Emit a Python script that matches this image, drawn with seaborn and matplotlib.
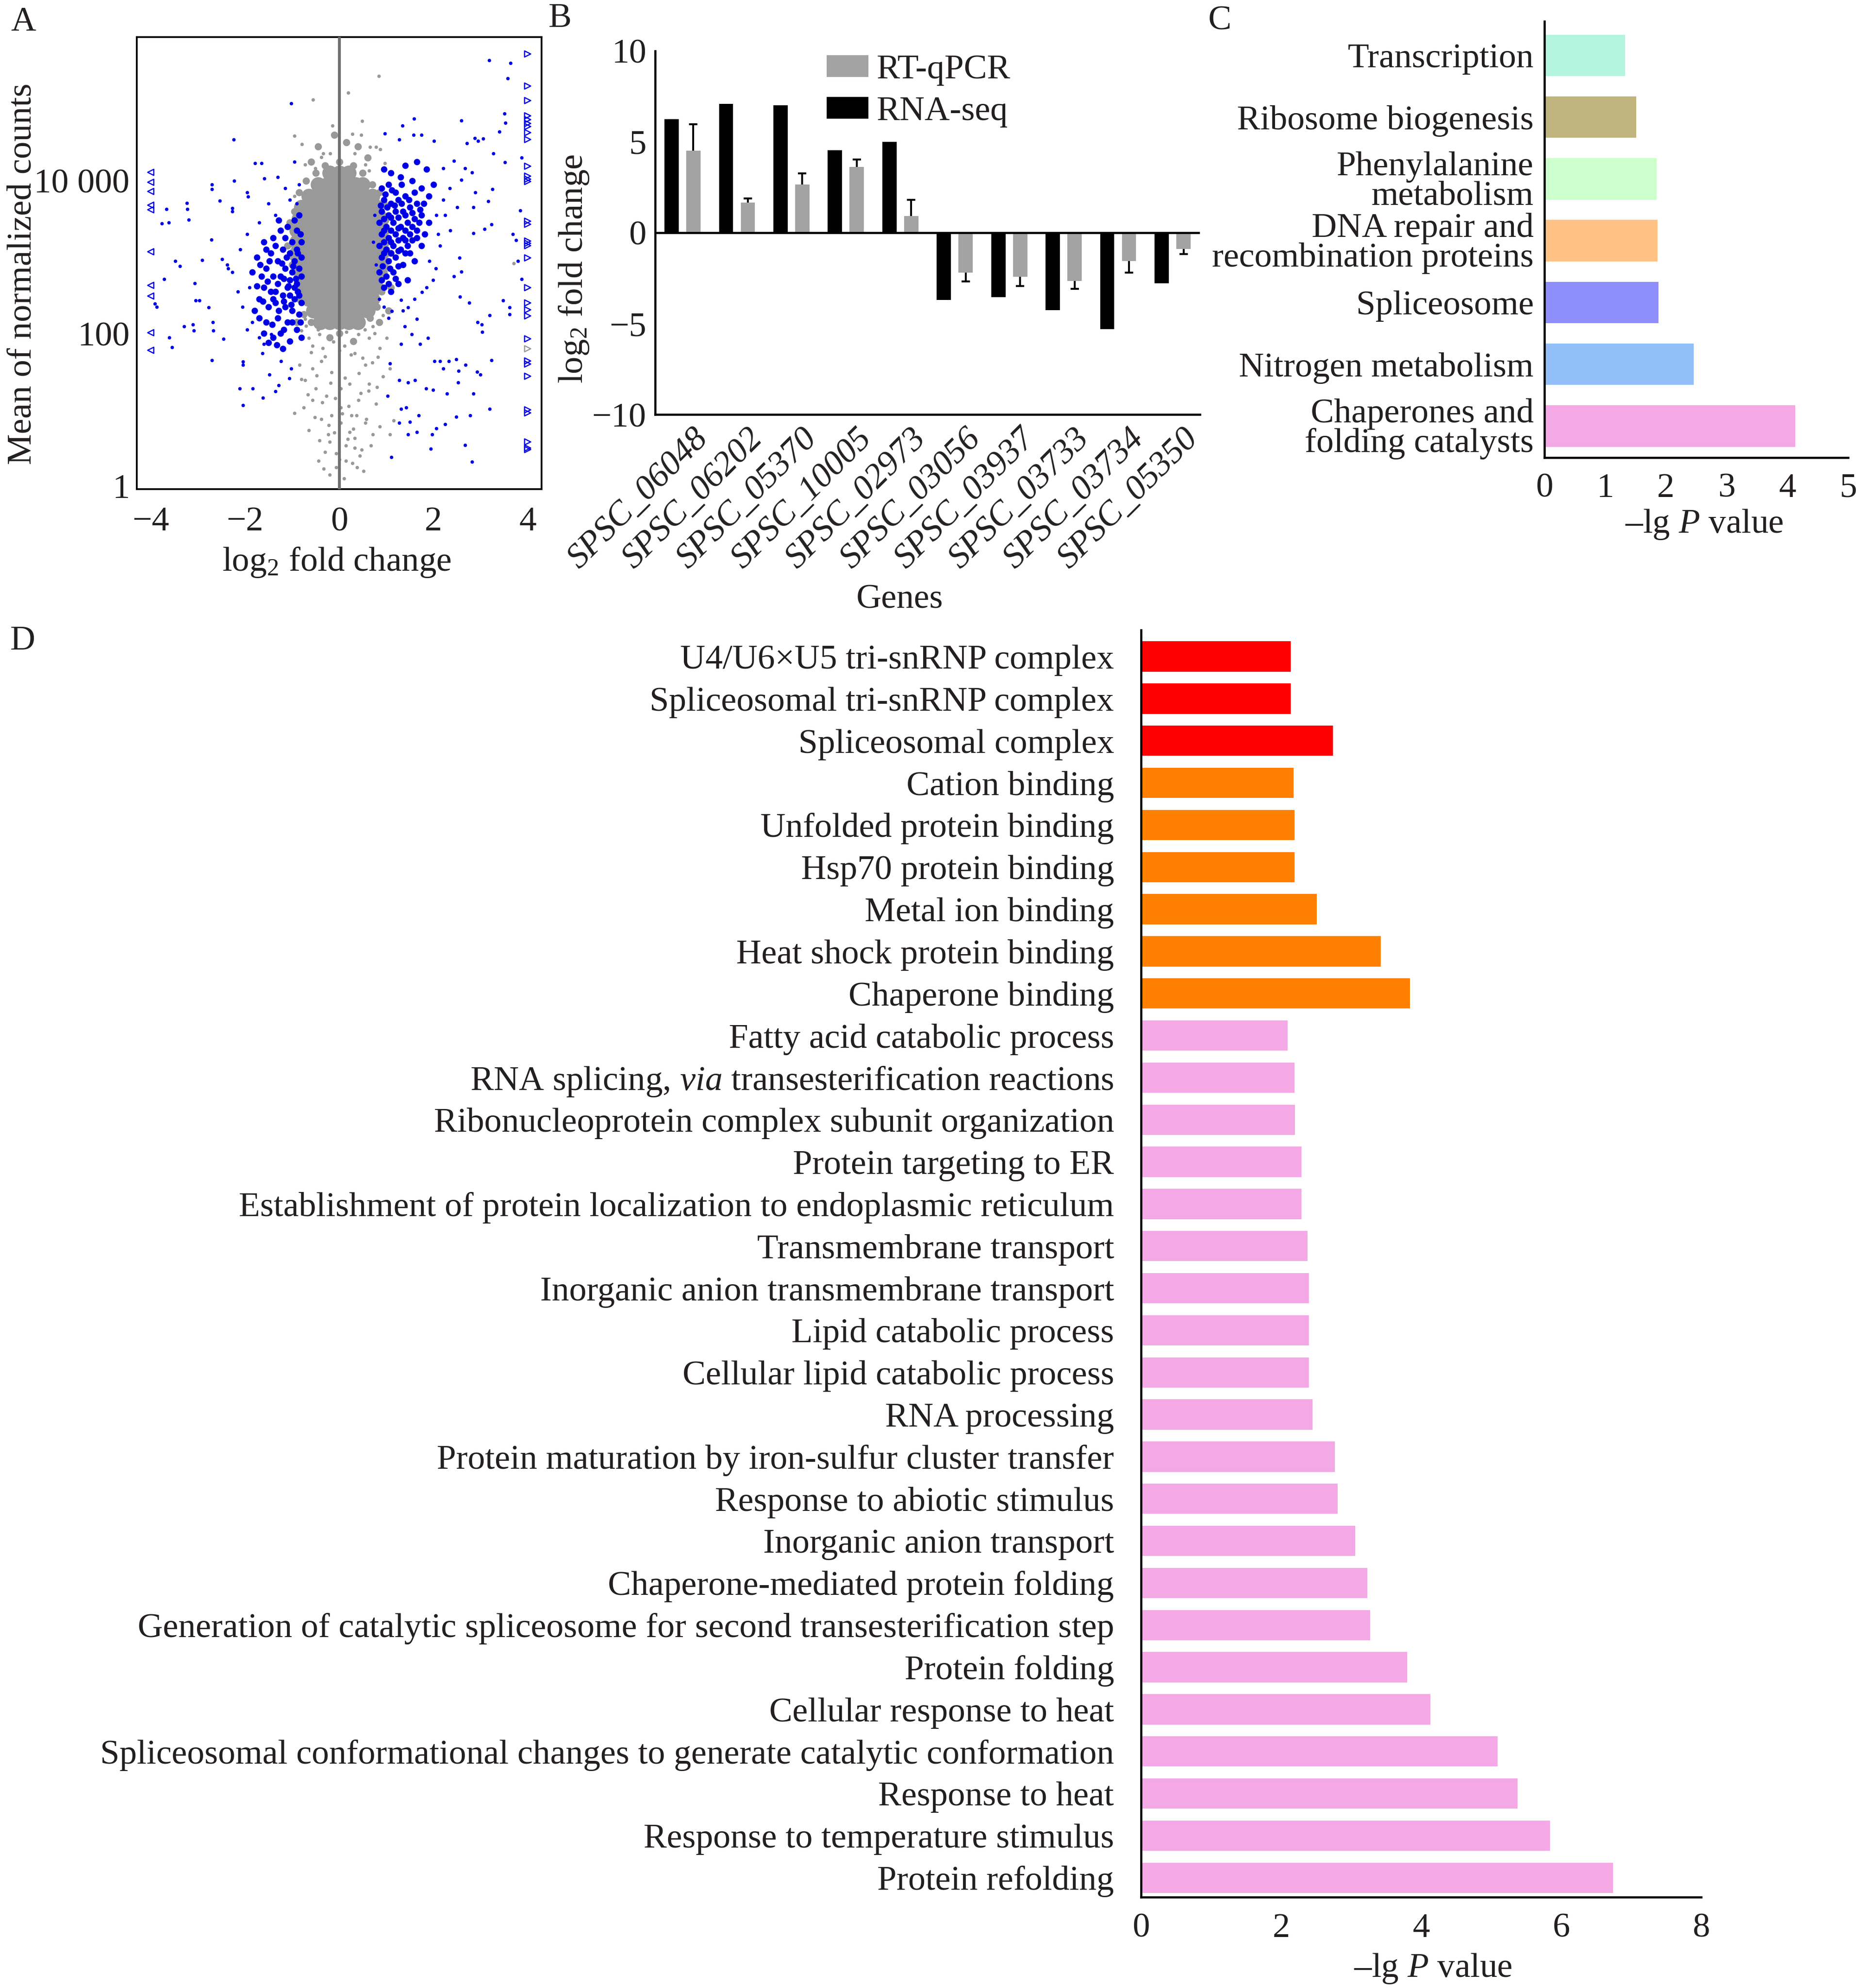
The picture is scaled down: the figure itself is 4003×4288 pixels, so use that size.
import numpy as np
import pandas as pd
import matplotlib
matplotlib.use("Agg")
import matplotlib.pyplot as plt
import matplotlib.transforms as mtransforms
from matplotlib.ticker import FixedLocator, FixedFormatter, NullLocator
import seaborn as sns

# ---------------- Panel A: MA plot (log2 fold change vs log10 mean counts) ----------------
grey_core_rows = {
    4.10: [-0.2, 0.0, 0.2],
    3.95: [-0.45, -0.25, -0.05, 0.15, 0.35, 0.5],
    3.80: [-0.65, -0.45, -0.25, -0.05, 0.15, 0.35, 0.55, 0.7],
    3.65: [-0.8, -0.6, -0.4, -0.2, 0.0, 0.2, 0.4, 0.6, 0.8],
    3.50: [-0.85, -0.65, -0.45, -0.25, -0.05, 0.15, 0.35, 0.55, 0.75, 0.9],
    3.35: [-0.9, -0.7, -0.5, -0.3, -0.1, 0.1, 0.3, 0.5, 0.7, 0.9],
    3.20: [-0.9, -0.7, -0.5, -0.3, -0.1, 0.1, 0.3, 0.5, 0.7, 0.9],
    3.05: [-0.9, -0.7, -0.5, -0.3, -0.1, 0.1, 0.3, 0.5, 0.7, 0.9],
    2.90: [-0.85, -0.65, -0.45, -0.25, -0.05, 0.15, 0.35, 0.55, 0.75, 0.88],
    2.75: [-0.8, -0.6, -0.4, -0.2, 0.0, 0.2, 0.4, 0.6, 0.8],
    2.60: [-0.75, -0.55, -0.35, -0.15, 0.05, 0.25, 0.45, 0.65, 0.78],
    2.45: [-0.65, -0.45, -0.25, -0.05, 0.15, 0.35, 0.55, 0.7],
    2.30: [-0.55, -0.35, -0.15, 0.05, 0.25, 0.45, 0.6],
    2.15: [-0.4, -0.2, 0.0, 0.2, 0.4],
}
grey_edge_x = [-0.95, -0.92, -0.98, -0.90, -0.85, -0.75, -0.60, 0.95, 0.98, 1.00, 0.95, 0.90, 0.80, 0.65,
               -0.85, -0.70, -0.50, -0.30, 0.00, 0.30, 0.50, 0.70, 0.85, -0.60, 0.60, -0.45, 0.15, 0.40, -0.10,
               -1.05, -1.00, 1.10, 1.05, -0.90, 0.85, -1.10, 1.10, 0.00, -0.20, 0.30]
grey_edge_lg = [3.60, 3.30, 3.00, 2.70, 2.45, 2.25, 2.15, 3.70, 3.40, 3.10, 2.80, 2.55, 2.35, 2.20,
                3.85, 4.00, 4.10, 4.20, 4.25, 4.20, 4.10, 3.95, 3.85, 4.25, 4.30, 4.45, 4.50, 4.45, 4.60,
                3.45, 2.90, 2.60, 2.30, 2.15, 2.15, 3.15, 3.05, 2.00, 1.95, 1.90]
grey_x = [0.84, 0.19, -0.56, -0.14, 0.49, 0.28, 0.47, -0.95, -0.79, 0.65, -0.34, -0.19, 0.78, 0.87, -0.38, 0.33, 0.97, -0.72, 0.56, 0.63, -0.51,
          -0.95, -0.75, -0.57, -0.38, -0.44, -0.33, -0.20, -0.06, -0.06, 0.14, 0.22, 0.33, 0.48, 0.67, 0.86, 1.16, 0.56, 0.37, 0.03, -0.16,
          -0.27, -0.50, -0.72, -0.84, -0.57, -0.38, -0.16, 0.03, 0.22, 0.41, 0.63, 0.78, 0.93, 1.08, 0.82, 0.56, 0.33, 0.11, -0.12, -0.35,
          -0.57, -0.65, -0.42, 0.63, 0.86, 1.01, 0.41, 0.03, 0.14, -0.23, 0.26, -0.65, 1.08, 0.33, 0.71,
          -0.80, 0.71, 0.93, -0.72, -0.95, 1.01, 0.90, 0.78, 3.70]
grey_lg = [5.37, 5.15, 5.06, 4.72, 4.78, 4.61, 4.60, 4.59, 4.48, 4.44, 4.36, 4.36, 4.44, 4.41, 4.31, 4.36, 4.23, 4.21, 4.21, 4.13, 4.16,
           0.96, 1.03, 1.13, 0.88, 0.33, 0.23, 0.58, 0.43, 0.25, 0.53, 0.71, 0.50, 0.48, 0.53, 0.78, 0.86, 0.83, 0.93, 0.83, 0.93,
           1.18, 1.28, 1.39, 1.59, 1.54, 1.64, 1.49, 1.28, 1.34, 1.13, 1.34, 1.08, 1.44, 1.54, 1.69, 1.59, 1.74, 1.84, 1.89, 1.81,
           1.84, 1.94, 1.99, 1.94, 1.81, 1.94, 1.99, 1.03, 0.33, 0.68, 0.93, 0.73, 0.68, 0.63, 0.68,
           2.04, 2.09, 2.24, 2.19, 3.80, 3.40, 2.85, 2.54, 2.92]
grey_tail_x = [-0.70, -0.45, -0.25, -0.05, 0.15, 0.35, 0.55, 0.75, -0.60, -0.30, 0.00, 0.25, 0.50, 0.70,
               -0.80, -0.48, -0.18, 0.12, 0.42, 0.62, -0.66, -0.36, -0.08, 0.20, 0.46, 0.80,
               -0.52, -0.22, 0.06, 0.30, 0.58, -0.42, -0.10, 0.18, 0.44, -0.30, 0.00, 0.28, 0.52, -0.20, 0.10, 0.38]
grey_tail_lg = [2.10, 2.05, 2.12, 2.08, 2.02, 2.10, 2.05, 2.00, 1.75, 1.70, 1.78, 1.72, 1.68, 1.62,
                1.40, 1.45, 1.35, 1.42, 1.48, 1.25, 1.20, 1.10, 1.15, 1.05, 1.22, 1.30,
                0.90, 0.80, 0.95, 0.75, 0.88, 0.60, 0.70, 0.62, 0.40, 0.45, 0.35, 0.30, 0.20, 0.15, 0.10, 0.25]

blue_core_x = [-0.80, -0.90, -0.80, -0.95, -0.85, -1.00, -0.80, -0.90, -1.05, -1.15, -1.10, -0.85, -0.95, -1.20, -1.30, -1.25,
               -1.15, -1.00, -0.85, -1.35, -1.45, -1.40, -1.30, -1.05, -1.20, -0.90, -1.00, -1.45, -1.55, -1.60, -1.50, -1.30,
               -1.10, -0.90, -1.25, -1.55, -1.70, -1.65, -1.75, -1.40, -1.10, -0.85, -1.25, -1.60, -1.85, -1.80, -1.40, -1.05,
               -0.80, -1.20, -1.60, -0.95, -1.35, -1.05, -0.80,
               0.90, 1.05, 1.20, 0.95, 1.10, 1.25, 1.40, 0.90, 1.05, 1.20, 1.35, 1.50, 1.65, 0.85, 1.00, 1.15, 1.30, 1.45, 1.60,
               1.75, 0.90, 1.05, 1.20, 1.35, 1.50, 1.65, 0.85, 1.00, 1.15, 1.30, 1.45, 0.90, 1.05, 1.20, 1.35, 0.85, 1.00, 1.15,
               0.95, 1.10, 1.25, 1.55, 1.75, 1.90, 1.30, 1.10, 1.85, 2.00, 1.60, 1.75, 1.45, 1.90, 0.95, 1.40, 1.65]
blue_core_lg = [3.20, 3.10, 3.00, 2.95, 2.85, 2.80, 2.75, 2.65, 2.70, 2.85, 2.60, 2.50, 2.45, 2.50, 2.65, 2.75,
                2.35, 2.30, 2.25, 2.40, 2.55, 2.75, 2.95, 3.05, 3.10, 3.35, 3.20, 3.05, 2.85, 2.60, 2.35, 2.20,
                2.15, 2.05, 2.00, 2.15, 2.45, 2.75, 3.00, 3.25, 3.40, 3.55, 3.35, 3.20, 2.80, 2.30, 1.95, 1.90,
                1.95, 1.80, 2.00, 2.60, 2.55, 2.50, 2.40,
                3.90, 3.95, 3.85, 3.75, 3.70, 3.75, 3.80, 3.60, 3.55, 3.60, 3.60, 3.65, 3.70, 3.45, 3.40, 3.45, 3.40, 3.45, 3.50,
                3.55, 3.30, 3.25, 3.30, 3.25, 3.30, 3.35, 3.15, 3.10, 3.15, 3.10, 3.15, 3.00, 2.95, 3.00, 2.90, 2.80, 2.75, 2.80,
                2.60, 2.55, 2.65, 4.00, 3.90, 3.80, 4.05, 4.10, 4.15, 3.95, 2.95, 3.15, 2.70, 3.45, 4.15, 4.20, 4.25]
blue_core2_x = [-0.88, -0.98, -0.92, -1.08, -1.18, -1.22, -1.12, -0.88, -1.02, -1.18, -1.28, -1.40, -1.52, -1.48, -1.35,
                -1.15, -0.95, -0.82, -1.62, -1.70, -1.42, -1.18, -1.00, -0.82, -1.32, -1.50, -1.75, -1.68, -1.55, -1.28,
                0.98, 1.12, 1.32, 0.88, 1.02, 1.18, 1.32, 1.48, 0.95, 1.10, 1.25, 1.40, 1.55, 1.72, 0.95, 1.10, 1.25,
                1.40, 1.55, 1.70, 0.95, 1.10, 1.25, 1.40, 1.55, 0.95, 1.10, 1.25, 1.40, 0.92, 1.08, 1.25, 0.90, 1.05,
                1.20, 1.50, 1.65, 1.82, 1.80, 1.60]
blue_core2_lg = [3.05, 2.88, 2.72, 2.62, 2.72, 2.92, 3.00, 2.55, 2.38, 2.42, 2.30, 2.45, 2.68, 2.95, 3.15,
                 3.25, 3.48, 3.30, 2.42, 2.20, 2.12, 2.05, 2.15, 2.15, 1.85, 1.88, 2.62, 2.90, 3.10, 3.48,
                 3.82, 3.88, 3.95, 3.68, 3.65, 3.68, 3.70, 3.75, 3.50, 3.52, 3.52, 3.55, 3.58, 3.62, 3.35, 3.35, 3.38,
                 3.35, 3.40, 3.45, 3.20, 3.20, 3.22, 3.22, 3.22, 3.05, 3.05, 3.08, 3.05, 2.88, 2.85, 2.88, 2.70, 2.65,
                 2.72, 3.05, 3.25, 3.30, 3.70, 3.85]

blue_x = [-1.02, -2.24, -1.79, -1.65, -2.23, -1.59, -1.95, -1.93, -2.70, -2.70, -3.23, -3.22, -3.67, -2.53, -2.27, -2.27,
          -3.76, -3.62, -3.19, -2.71, -3.48, -3.38, -2.91, -3.72, -3.07, -3.05, -2.97, -3.91, -3.87, -2.36, -2.27, -2.49,
          -2.38, -2.77, -3.29, -3.11, -3.09, -3.61, -3.55, -2.68, -2.67, -2.46, -2.70, -2.04, -2.04, -2.11, -2.04, -1.84,
          -1.62, -1.48, -1.35, -1.28, -1.44, -1.24, -1.63, -1.60, -1.02, -1.06,
          -0.95, -1.30, -0.85, -1.15, -1.50, -1.05, -1.35, -0.90, -1.70, -1.95, -2.10, -1.90, -2.05, -1.95, -1.70, -1.85, -2.15,
          3.18, 3.64, 3.58, 3.51, 3.53, 3.40, 2.59, 1.59, 1.34, 0.97, 1.27, 1.58, 1.75, 2.01, 2.71, 2.88, 2.95, 3.06, 3.27,
          3.52, 3.87, 3.84, 3.69, 3.75, 3.79, 3.87, 3.48, 3.62, 3.62, 3.19, 2.94, 3.03, 3.04, 2.76, 2.56, 2.44, 2.59, 2.55,
          2.85, 3.08, 3.23, 2.85, 3.16, 3.25, 2.82, 2.67, 2.21, 2.44, 2.59, 2.89, 2.50, 2.21, 2.06, 2.36, 2.14, 1.91, 1.99,
          1.76, 1.46, 1.31, 1.12, 1.65, 1.39, 1.54, 1.88, 2.14, 2.33, 2.48, 2.68, 2.93, 3.23, 3.00, 2.53, 2.21, 2.02, 1.72,
          1.31, 1.08, 1.27, 1.46, 1.61, 1.84, 1.99, 2.29, 2.52, 2.85, 3.19, 2.78, 2.48, 2.25, 2.06, 1.97, 1.69, 1.50, 1.31,
          1.42, 1.27, 1.46, 1.65, 1.94, 2.67, 2.82, 1.11, 1.03,
          0.75, 0.72, 0.78, 2.10, 2.25, 2.35, 2.05, 1.85, 1.60, 1.35, 0.95, 0.85, 1.05]
blue_lg = [5.01, 4.54, 4.23, 4.23, 4.00, 4.03, 3.85, 3.79, 3.95, 3.89, 3.71, 3.63, 3.63, 3.74, 3.64, 3.60,
           3.44, 3.45, 3.49, 3.23, 2.95, 2.88, 2.96, 2.71, 2.66, 2.43, 2.43, 2.39, 2.35, 2.85, 2.80, 2.97,
           2.90, 2.34, 2.09, 2.12, 2.04, 1.95, 1.82, 2.15, 2.04, 1.93, 1.65, 1.63, 1.59, 1.28, 1.06, 1.28,
           1.16, 1.46, 1.24, 1.32, 1.99, 1.64, 1.74, 1.86, 1.54, 1.41,
           4.25, 4.05, 3.95, 3.90, 3.70, 3.75, 3.55, 3.70, 3.45, 3.30, 3.10, 2.60, 2.35, 2.05, 1.95, 2.15, 2.55,
           5.58, 5.54, 5.34, 4.88, 4.76, 4.64, 4.79, 4.81, 4.72, 4.62, 4.54, 4.60, 4.60, 4.52, 4.49, 4.56, 4.52, 4.55, 4.36,
           4.24, 4.30, 3.61, 3.30, 3.22, 2.95, 2.71, 2.43, 2.34, 2.25, 2.24, 2.15, 2.12, 2.02, 2.40, 2.48, 2.75, 2.81, 2.99,
           3.31, 3.37, 3.43, 3.65, 3.73, 3.89, 4.11, 4.16, 4.16, 4.26, 4.01, 3.85, 3.65, 3.75, 3.55, 3.35, 3.15, 2.95, 2.70,
           2.54, 2.34, 2.44, 2.29, 2.19, 2.09, 1.99, 1.94, 1.64, 1.64, 1.66, 1.59, 1.50, 1.65, 1.46, 1.51, 1.54, 1.64, 1.86,
           1.86, 1.61, 1.39, 1.36, 1.39, 1.28, 1.26, 1.21, 1.36, 1.21, 1.01, 0.93, 0.91, 0.81, 0.76, 0.68, 0.93, 0.84, 1.01,
           1.03, 0.83, 0.68, 0.71, 0.49, 0.54, 0.32, 0.38, 1.18,
           3.55, 3.20, 2.90, 3.30, 3.55, 3.90, 2.85, 2.60, 2.45, 2.30, 2.35, 2.45, 2.20]

tri_left_lg = [4.11, 3.98, 3.86, 3.68, 3.62, 3.07, 2.63, 2.49, 2.01, 1.78]
tri_right_lg = [5.66, 5.24, 5.05, 4.85, 4.80, 4.75, 4.71, 4.63, 4.54, 4.19, 4.06, 4.02, 3.99, 3.47, 3.43, 3.21,
                3.18, 3.15, 2.99, 2.60, 2.40, 2.31, 2.23, 1.93, 1.64, 1.60, 1.44, 1.00, 0.96, 0.58, 0.50, 0.48]
tri_right_grey_lg = [1.80]
tri_clip = 4.0

# ---------------- Panel B: RT-qPCR vs RNA-seq ----------------
genes = ["SPSC_06048", "SPSC_06202", "SPSC_05370", "SPSC_10005", "SPSC_02973",
         "SPSC_03056", "SPSC_03937", "SPSC_03733", "SPSC_03734", "SPSC_05350"]
rnaseq = [6.24, 7.10, 7.02, 4.55, 5.01, -3.70, -3.53, -4.25, -5.31, -2.77]
qpcr = [4.52, 1.67, 2.66, 3.62, 0.91, -2.18, -2.41, -2.64, -1.54, -0.89]
qpcr_err = [1.44, 0.21, 0.60, 0.40, 0.91, 0.50, 0.53, 0.43, 0.66, 0.29]
methods = ["RNA-seq", "RT-qPCR"]
method_colors = {"RNA-seq": "#000000", "RT-qPCR": "#a3a3a3"}

# ---------------- Panel C: KEGG ----------------
kegg_terms = ["Transcription", "Ribosome biogenesis", "Phenylalanine\nmetabolism",
              "DNA repair and\nrecombination proteins", "Spliceosome", "Nitrogen metabolism",
              "Chaperones and\nfolding catalysts"]
kegg_vals = [1.33, 1.51, 1.85, 1.86, 1.88, 2.46, 4.13]
kegg_colors = ["#b3f5df", "#bfb47e", "#ccffcc", "#ffc285", "#8e8efc", "#93bff8", "#f5a8e6"]

# ---------------- Panel D: GO ----------------
go_terms = ["U4/U6×U5 tri-snRNP complex", "Spliceosomal tri-snRNP complex", "Spliceosomal complex",
            "Cation binding", "Unfolded protein binding", "Hsp70 protein binding", "Metal ion binding",
            "Heat shock protein binding", "Chaperone binding", "Fatty acid catabolic process",
            "RNA splicing, $\\mathit{via}$ transesterification reactions",
            "Ribonucleoprotein complex subunit organization", "Protein targeting to ER",
            "Establishment of protein localization to endoplasmic reticulum", "Transmembrane transport",
            "Inorganic anion transmembrane transport", "Lipid catabolic process", "Cellular lipid catabolic process",
            "RNA processing", "Protein maturation by iron-sulfur cluster transfer", "Response to abiotic stimulus",
            "Inorganic anion transport", "Chaperone-mediated protein folding",
            "Generation of catalytic spliceosome for second transesterification step", "Protein folding",
            "Cellular response to heat",
            "Spliceosomal conformational changes to generate catalytic conformation", "Response to heat",
            "Response to temperature stimulus", "Protein refolding"]
go_vals = [2.14, 2.14, 2.74, 2.18, 2.19, 2.19, 2.51, 3.42, 3.84, 2.09, 2.19, 2.20, 2.29, 2.29, 2.38, 2.40,
           2.40, 2.40, 2.45, 2.77, 2.81, 3.06, 3.23, 3.27, 3.80, 4.13, 5.09, 5.38, 5.84, 6.74]
go_groups = ["CC"] * 3 + ["MF"] * 6 + ["BP"] * 21
go_palette = {"CC": "#ff0000", "MF": "#ff8000", "BP": "#f5a8e6"}

# ---------------- style ----------------
FS = 18
TXT = "#231f20"
BLUE = "#0000e6"
GREY = "#999999"
sns.set_style("white")
plt.rcParams.update({
    "font.size": FS,
    "mathtext.fontset": "custom",
    "mathtext.rm": "Liberation Serif",
    "mathtext.it": "Liberation Serif:italic",
    "mathtext.default": "regular",
    "axes.edgecolor": "black",
    "axes.linewidth": 1.1,
    "text.color": TXT,
    "axes.labelcolor": TXT,
    "xtick.labelcolor": TXT,
    "ytick.labelcolor": TXT,
    "axes.unicode_minus": True,
})
plt.rcParams["font.family"] = ["Liberation Serif", "DejaVu Serif"]

fig = plt.figure(figsize=(4003 / 300, 4288 / 300), dpi=300)

# ================= Panel A =================
axA = fig.add_axes([0.0736, 0.7539, 0.2183, 0.2274])
core_x, core_lg = [], []
for lg_val, xs in grey_core_rows.items():
    core_x.extend(xs)
    core_lg.extend([lg_val] * len(xs))
SMALL = 3.2
sns.scatterplot(x=core_x, y=np.power(10.0, core_lg), color=GREY, s=62, linewidth=0, ax=axA, zorder=2)
sns.scatterplot(x=grey_edge_x, y=np.power(10.0, grey_edge_lg), color=GREY, s=14, linewidth=0, ax=axA, zorder=2)
sns.scatterplot(x=grey_x + grey_tail_x, y=np.power(10.0, grey_lg + grey_tail_lg), color=GREY, s=SMALL,
                linewidth=0, ax=axA, zorder=2)
sns.scatterplot(x=blue_core_x + blue_core2_x, y=np.power(10.0, blue_core_lg + blue_core2_lg), color=BLUE, s=11,
                linewidth=0, ax=axA, zorder=3)
sns.scatterplot(x=blue_x, y=np.power(10.0, blue_lg), color=BLUE, s=SMALL, linewidth=0, ax=axA, zorder=3)
sns.scatterplot(x=[-tri_clip] * len(tri_left_lg), y=np.power(10.0, tri_left_lg), marker="<", color="none",
                edgecolor=BLUE, linewidth=0.6, s=10, ax=axA, zorder=3)
sns.scatterplot(x=[tri_clip] * len(tri_right_lg), y=np.power(10.0, tri_right_lg), marker=">", color="none",
                edgecolor=BLUE, linewidth=0.6, s=10, ax=axA, zorder=3)
sns.scatterplot(x=[tri_clip] * len(tri_right_grey_lg), y=np.power(10.0, tri_right_grey_lg), marker=">",
                color="none", edgecolor=GREY, linewidth=0.6, s=10, ax=axA, zorder=3)
axA.axvline(0, color="#707070", lw=1.5, zorder=4)
axA.set_yscale("log")
axA.set_xlim(-4.3, 4.3)
axA.set_ylim(10 ** -0.04, 10 ** 5.88)
axA.xaxis.set_major_locator(FixedLocator([-4, -2, 0, 2, 4]))
axA.yaxis.set_major_locator(FixedLocator([1, 100, 10000]))
axA.yaxis.set_major_formatter(FixedFormatter(["1", "100", "10 000"]))
axA.yaxis.set_minor_locator(NullLocator())
axA.tick_params(axis="both", direction="in", length=4.5, width=1.0, labelsize=FS, top=False, right=False)
axA.tick_params(axis="x", pad=9)
axA.tick_params(axis="y", pad=3.6)
for s in axA.spines.values():
    s.set_linewidth(0.9)
axA.set_xlabel("log$_2$ fold change", fontsize=FS)
axA.set_ylabel("Mean of normalized counts", fontsize=FS)
axA.xaxis.set_label_coords(0.494, -0.125)
axA.yaxis.set_label_coords(-0.243, 0.476)

# ================= Panel B =================
axB = fig.add_axes([0.353, 0.7914, 0.2935, 0.183])
dfB = pd.DataFrame({
    "gene": genes + genes,
    "method": [methods[0]] * len(genes) + [methods[1]] * len(genes),
    "value": rnaseq + qpcr,
})
sns.barplot(data=dfB, x="gene", y="value", hue="method", hue_order=methods,
            palette=method_colors, width=0.8, gap=0.35,
            saturation=1, errorbar=None, linewidth=0, legend=False, ax=axB)
bar_conts = list(axB.containers)
black_cont, grey_cont = bar_conts[0], bar_conts[1]
ex = np.array([p.get_x() + p.get_width() / 2 for p in grey_cont])
qv = np.array(qpcr)
qe = np.array(qpcr_err)
ends = qv + np.sign(qv) * qe
axB.vlines(ex, qv, ends, color="black", lw=1.0, zorder=4)
axB.hlines(ends, ex - 0.075, ex + 0.075, color="black", lw=1.0, zorder=4)
axB.axhline(0, color="black", lw=1.1, zorder=5)
axB.set_xlim(-0.5, 9.5)
axB.set_ylim(-10, 10)
axB.set_yticks([10, 5, 0, -5, -10])
axB.spines["top"].set_visible(False)
axB.spines["right"].set_visible(False)
axB.tick_params(axis="both", direction="in", length=4.8, width=1.0, labelsize=FS)
axB.tick_params(axis="y", pad=4.6)
axB.tick_params(axis="x", pad=0)
axB.set_xticks(range(len(genes)))
axB.set_xticklabels(genes, rotation=45, ha="right", va="top", rotation_mode="anchor", fontstyle="italic")
offB = mtransforms.ScaledTranslation(5.0 / 72, -4.3 / 72, fig.dpi_scale_trans)
for lab in axB.get_xticklabels():
    lab.set_transform(lab.get_transform() + offB)
axB.set_xlabel("Genes", fontsize=FS)
axB.set_ylabel("log$_2$ fold change", fontsize=FS)
axB.xaxis.set_label_coords(0.449, -0.466)
axB.yaxis.set_label_coords(-0.118, 0.401)
axB.legend([grey_cont, black_cont], [methods[1], methods[0]], loc="upper left",
           bbox_to_anchor=(0.315, 0.99), frameon=False, fontsize=FS, handlelength=1.2, handleheight=0.6,
           handletextpad=0.23, labelspacing=0.3, borderpad=0, borderaxespad=0)

# ================= Panel C =================
axC = fig.add_axes([0.8321, 0.7698, 0.1636, 0.2195])
sns.barplot(x=kegg_vals, y=kegg_terms, hue=kegg_terms, palette=kegg_colors, width=0.67, saturation=1,
            linewidth=0, legend=False, orient="h", ax=axC)
axC.set_xlim(0, 5)
axC.set_ylim(6.51, -0.55)
axC.set_xticks([0, 1, 2, 3, 4, 5])
axC.spines["top"].set_visible(False)
axC.spines["right"].set_visible(False)
axC.tick_params(axis="x", direction="in", length=3.7, width=1.0, labelsize=FS, pad=8.0)
axC.tick_params(axis="y", length=0, labelsize=FS, pad=5.5)
for t in axC.get_yticklabels():
    t.set_linespacing(0.92)
axC.set_xlabel("–lg $\\mathit{P}$ value", fontsize=FS)
axC.set_ylabel("")
axC.xaxis.set_label_coords(0.527, -0.115)

# ================= Panel D =================
axD = fig.add_axes([0.6148, 0.0457, 0.3018, 0.6374])
sns.barplot(x=go_vals, y=go_terms, hue=go_groups, palette=go_palette, dodge=False, width=0.72,
            saturation=1, linewidth=0, legend=False, orient="h", ax=axD)
axD.set_xlim(0, 8)
axD.set_ylim(29.46, -0.63)
axD.set_xticks([0, 2, 4, 6, 8])
axD.spines["top"].set_visible(False)
axD.spines["right"].set_visible(False)
axD.tick_params(axis="x", direction="in", length=5, width=1.0, labelsize=FS, pad=8.2)
axD.tick_params(axis="y", length=0, labelsize=FS, pad=14)
axD.set_xlabel("–lg $\\mathit{P}$ value", fontsize=FS)
axD.set_ylabel("")
axD.xaxis.set_label_coords(0.5215, -0.043)

# ---------------- panel letters ----------------
for letter, (px, py) in {"A": (23, 14), "B": (1183, 6), "C": (2606, 12), "D": (22, 1350)}.items():
    fig.text(px / 4003, 1 - py / 4288, letter, fontsize=FS, ha="left", va="top", color=TXT)

fig.savefig("out.png", dpi=300)
